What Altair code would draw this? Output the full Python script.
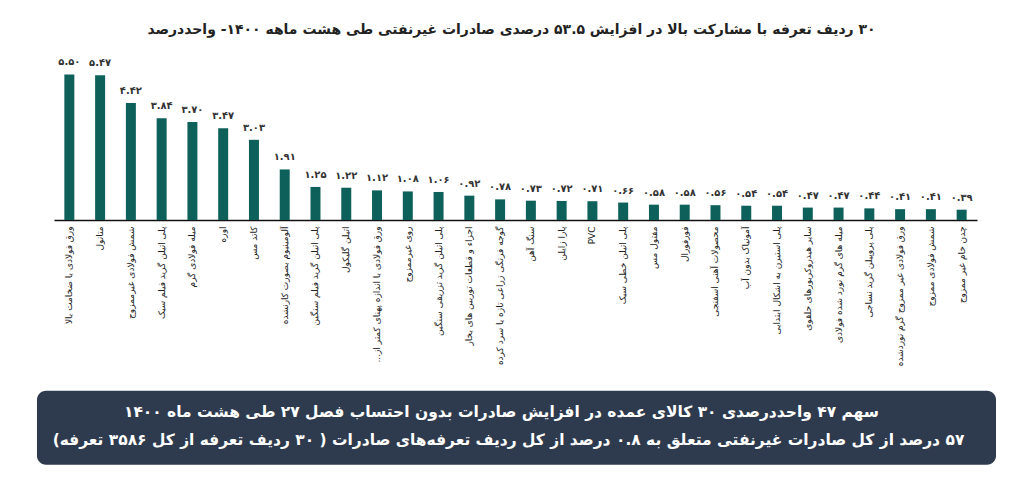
import altair as alt
import pandas as pd

categories = [
    "ورق فولادی با ضخامت بالا",
    "متانول",
    "شمش فولادی غیرممزوج",
    "پلی اتیلن گرید فیلم سبک",
    "میله فولادی گرم",
    "اوره",
    "کاتد مس",
    "آلومینیوم بصورت کارنشده",
    "پلی اتیلن گرید فیلم سنگین",
    "اتیلن گلیکول",
    "ورق فولادی با اندازه پهنای کمتر از...",
    "روی غیرممزوج",
    "پلی اتیلن گرید تزریقی سنگین",
    "اجزاء و قطعات توربین های بخار",
    "گوجه فرنگی زراعی تازه یا سرد کرده",
    "سنگ آهن",
    "پارا زایلن",
    "PVC",
    "پلی اتیلن خطی سبک",
    "مفتول مس",
    "فورفورال",
    "محصولات آهنی اسفنجی",
    "آمونیاک بدون آب",
    "پلی استیرن به اشکال ابتدایی",
    "سایر هیدروکربورهای حلقوی",
    "میله های گرم نورد شده فولادی",
    "پلی پروپیلن گرید نساجی",
    "ورق فولادی غیر ممزوج گرم نوردشده",
    "شمش فولادی ممزوج",
    "چدن خام غیر ممزوج",
]
values = [5.50, 5.47, 4.42, 3.84, 3.70, 3.47, 3.03, 1.91, 1.25, 1.22,
          1.12, 1.08, 1.06, 0.92, 0.78, 0.73, 0.72, 0.71, 0.66, 0.58,
          0.58, 0.56, 0.54, 0.54, 0.47, 0.47, 0.44, 0.41, 0.41, 0.39]

title_text = "۳۰ ردیف تعرفه با مشارکت بالا در افزایش ۵۳.۵ درصدی صادرات غیرنفتی طی هشت ماهه ۱۴۰۰- واحددرصد"
note_lines = [
    "سهم ۴۷ واحددرصدی ۳۰ کالای عمده در افزایش صادرات بدون احتساب فصل ۲۷ طی هشت ماه ۱۴۰۰",
    "۵۷ درصد از کل صادرات غیرنفتی متعلق به ۰.۸ درصد از کل ردیف تعرفه‌های صادرات ( ۳۰ ردیف تعرفه از کل ۳۵۸۶ تعرفه)",
]

FA = str.maketrans("0123456789", "۰۱۲۳۴۵۶۷۸۹")


def rtl(s):
    return "\u202b" + s + "\u202c"


FONT = "DejaVu Sans"
W, H = 924, 159

df = pd.DataFrame({
    "cat": [rtl(c) for c in categories],
    "value": values,
    "label": [f"{v:.2f}".translate(FA) for v in values],
})

x_enc = alt.X(
    "cat:N", sort=None,
    scale=alt.Scale(paddingInner=0, paddingOuter=0),
    axis=alt.Axis(title=None, labelAngle=270, labelAlign="right", labelBaseline="middle",
                  labelFont=FONT, labelFontSize=9, labelColor="#222", labelPadding=6,
                  labelLimit=220, ticks=False, domainColor="#111", domainWidth=1.5,
                  grid=False),
)
y_enc = alt.Y("value:Q", scale=alt.Scale(domain=[0, 6]), axis=None)

bars = alt.Chart(df).mark_bar(size=10, color="#0e605b").encode(x=x_enc, y=y_enc)
labels = alt.Chart(df).mark_text(dy=-7, baseline="bottom", font=FONT, fontSize=10,
                                 fontWeight="bold", color="#333").encode(
    x=alt.X("cat:N", sort=None), y="value:Q", text="label:N")

title = alt.Chart(pd.DataFrame({"t": [rtl(title_text)]})).mark_text(
    font=FONT, fontSize=14, fontWeight="bold", color="#222", baseline="middle", align="center"
).encode(text="t:N", x=alt.value(458), y=alt.value(-31))

box = alt.Chart(pd.DataFrame({"a": [0]})).mark_rect(color="#2e3b4e", cornerRadius=9).encode(
    x=alt.value(-17), x2=alt.value(943), y=alt.value(330), y2=alt.value(404))

note1 = alt.Chart(pd.DataFrame({"t": [rtl(note_lines[0])]})).mark_text(
    font=FONT, fontSize=15.5, fontWeight="bold", color="white", baseline="middle", align="center"
).encode(text="t:N", x=alt.value(448), y=alt.value(351))
note2 = alt.Chart(pd.DataFrame({"t": [rtl(note_lines[1])]})).mark_text(
    font=FONT, fontSize=15.5, fontWeight="bold", color="white", baseline="middle", align="center"
).encode(text="t:N", x=alt.value(455), y=alt.value(379))

chart = alt.layer(box, bars, labels, title, note1, note2).properties(
    width=W, height=H,
    autosize=alt.AutoSizeParams(type="none"),
    padding={"left": 46, "top": 53, "right": 28, "bottom": 250},
    background="white",
).configure_view(stroke=None)

chart.save("out.html", embed_options={"renderer": "svg", "actions": False})
